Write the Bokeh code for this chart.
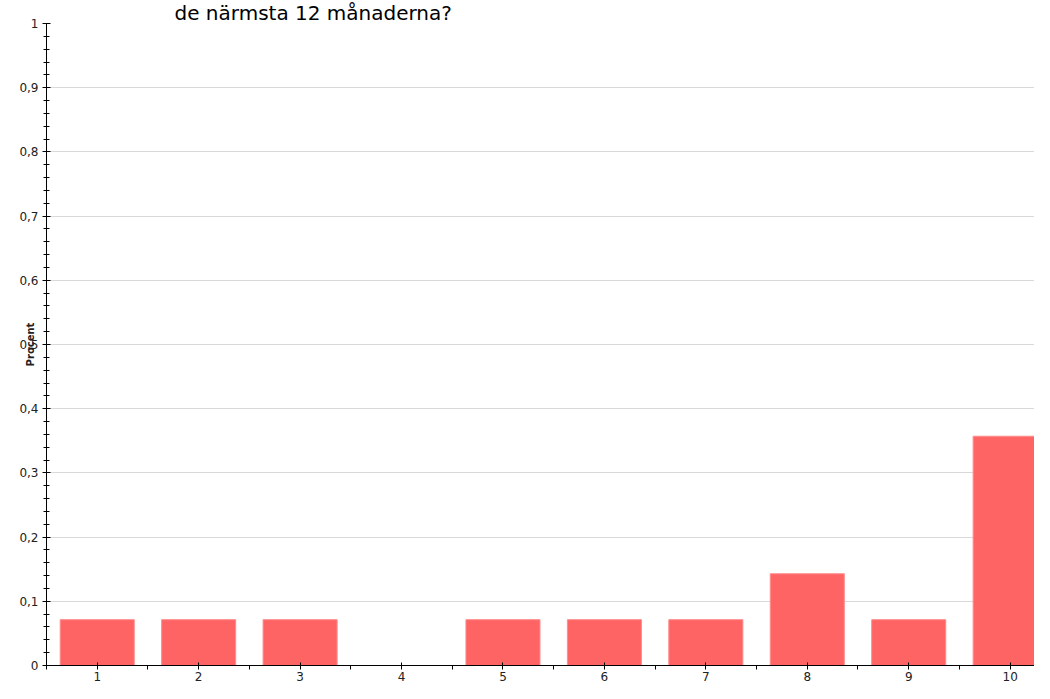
from bokeh.plotting import figure
from bokeh.models import FixedTicker, ColumnDataSource
from bokeh.embed import file_html
from bokeh.resources import INLINE

# ---- data ----
categories = [1, 2, 3, 4, 5, 6, 7, 8, 9, 10]
procent = [0.0714, 0.0714, 0.0714, 0.0, 0.0714, 0.0714, 0.0714, 0.1429, 0.0714, 0.3571]
y_ticks = [0, 0.1, 0.2, 0.3, 0.4, 0.5, 0.6, 0.7, 0.8, 0.9, 1]
y_tick_labels = ["0", "0,1", "0,2", "0,3", "0,4", "0,5", "0,6", "0,7", "0,8", "0,9", "1"]
y_minor = [i / 50 for i in range(51)]
x_minor = [c - 0.5 for c in categories] + [categories[-1] + 0.5]
title_text = "de närmsta 12 månaderna?"
y_label = "Procent"

source = ColumnDataSource(dict(x=categories, top=procent))

p = figure(width=1034, height=683, output_backend="svg", toolbar_location=None,
           x_range=(0.5, 10.24), y_range=(0, 1),
           min_border_left=46, min_border_top=0, min_border_right=0, min_border_bottom=10)
p.outline_line_color = None
p.background_fill_color = "white"
p.border_fill_color = "white"

# title line
p.title.text = title_text
p.title.text_font = "DejaVu Sans"
p.title.text_font_size = "20px"
p.title.text_font_style = "normal"
p.title.text_color = "black"
p.title.align = "left"
p.title.offset = 128
p.title.standoff = -3

p.vbar(x="x", top="top", width=0.73, source=source,
       fill_color="#ff6464", line_color="#ff8c8c", line_width=1)

# grid
p.xgrid.grid_line_color = None
p.ygrid.grid_line_color = "#d9d9d9"
p.ygrid.grid_line_width = 1

# y axis
ya = p.yaxis[0]
ya.ticker = FixedTicker(ticks=y_ticks, minor_ticks=y_minor)
ya.major_label_overrides = {t: l for t, l in zip(y_ticks, y_tick_labels)}
ya.major_tick_in = 4
ya.major_tick_out = 4
ya.minor_tick_in = 3
ya.minor_tick_out = 3
ya.axis_line_color = "black"
ya.major_tick_line_color = "black"
ya.minor_tick_line_color = "black"
ya.major_label_text_font = "DejaVu Sans"
ya.major_label_text_font_size = "12px"
ya.major_label_text_color = "#222222"
ya.major_label_standoff = 4
ya.axis_label = y_label
ya.axis_label_text_font = "DejaVu Sans"
ya.axis_label_text_font_size = "10px"
ya.axis_label_text_font_style = "bold"
ya.axis_label_text_color = "#222222"
ya.axis_label_standoff = -20

# x axis
xa = p.xaxis[0]
xa.ticker = FixedTicker(ticks=categories, minor_ticks=x_minor)
xa.major_tick_in = 3
xa.major_tick_out = 4
xa.minor_tick_in = 0
xa.minor_tick_out = 4
xa.axis_line_color = "black"
xa.major_tick_line_color = "black"
xa.minor_tick_line_color = "black"
xa.major_label_text_font = "DejaVu Sans"
xa.major_label_text_font_size = "12px"
xa.major_label_text_color = "#222222"
xa.major_label_standoff = 2

open("out.html", "w").write(file_html(p, INLINE))
